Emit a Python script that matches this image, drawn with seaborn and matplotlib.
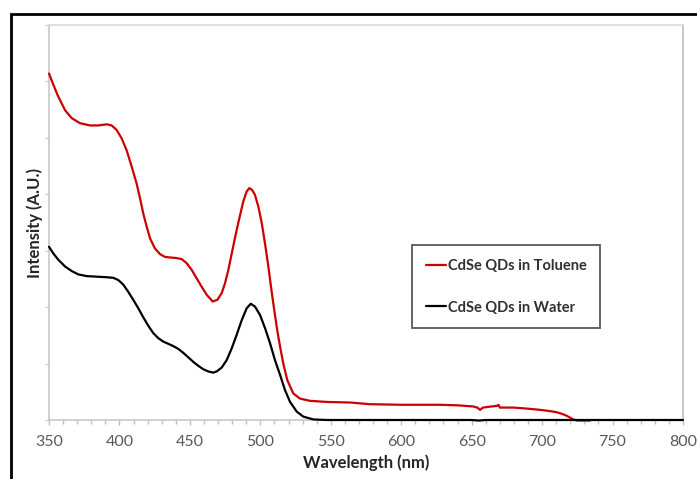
import numpy as np
import pandas as pd
import matplotlib.pyplot as plt
import seaborn as sns
from matplotlib.patches import Rectangle
from matplotlib.ticker import MultipleLocator, NullFormatter

# absorbance spectra (A.U.)
toluene_nm = [350, 353.1, 356.6, 361.4, 366.1, 372, 379.1, 385, 391, 394.5, 398, 401.6,
              405.1, 408.7, 412.2, 414.6, 416.9, 419.3, 421.7, 425.2, 428.8, 432.3, 435.9,
              440.6, 444.2, 447.7, 451.3, 454.8, 458.4, 461.9, 466.2, 469.5, 472.6, 474.9,
              477.3, 479.7, 482.7, 485.6, 487.9, 490.3, 492.2, 494.1, 496.2, 498.6, 501,
              503.3, 505.7, 508.1, 510.4, 512, 514, 516.3, 519.1, 523.4, 528.1, 535.2,
              547.1, 563.6, 577.8, 600, 627.5, 640, 651, 654, 656, 658, 664, 668, 669, 670,
              680, 690, 698.5, 705, 710, 714, 717, 720, 722, 725, 734]
toluene_int = [0.614, 0.594, 0.573, 0.549, 0.535, 0.526, 0.522, 0.522, 0.524, 0.522, 0.514,
               0.499, 0.478, 0.449, 0.419, 0.393, 0.366, 0.343, 0.322, 0.304, 0.294, 0.289,
               0.288, 0.287, 0.285, 0.278, 0.266, 0.251, 0.236, 0.222, 0.210, 0.213, 0.225,
               0.242, 0.266, 0.295, 0.331, 0.363, 0.387, 0.405, 0.411, 0.408, 0.399, 0.378,
               0.349, 0.313, 0.272, 0.226, 0.186, 0.159, 0.130, 0.100, 0.071, 0.047, 0.038,
               0.034, 0.032, 0.031, 0.028, 0.027, 0.027, 0.026, 0.024, 0.022, 0.018, 0.022,
               0.024, 0.025, 0.027, 0.022, 0.022, 0.020, 0.018, 0.016, 0.014, 0.011, 0.008,
               0.004, 0.001, -0.001, -0.001]

water_nm = [350, 353.1, 356.6, 361.4, 366.1, 370.8, 376.8, 383.9, 391, 395.6, 399.2, 402.7,
            406.3, 409.8, 413.4, 416.9, 420.5, 424, 427.6, 431.1, 434.7, 438.2, 441.8, 445.3,
            448.9, 452.4, 456, 459.5, 463.1, 466.6, 469, 472.6, 476.1, 479.7, 483.2, 486.8,
            490.3, 493.2, 496.2, 499.8, 503.3, 506.9, 510.4, 514, 517.5, 521.1, 525.8, 530.5,
            537.6, 547.1, 600, 650, 655, 660, 700, 750, 800]
water_int = [0.307, 0.295, 0.284, 0.272, 0.264, 0.258, 0.255, 0.254, 0.253, 0.252, 0.248,
             0.240, 0.227, 0.213, 0.198, 0.182, 0.167, 0.154, 0.145, 0.139, 0.135, 0.131,
             0.126, 0.119, 0.111, 0.103, 0.096, 0.090, 0.086, 0.084, 0.086, 0.093, 0.106,
             0.127, 0.151, 0.177, 0.198, 0.206, 0.201, 0.186, 0.163, 0.136, 0.106, 0.080,
             0.053, 0.032, 0.015, 0.006, 0.001, 0.0, 0.0, 0.0, -0.001, 0.0, 0.0, 0.0, 0.0]

series_names = ["CdSe QDs in Toluene", "CdSe QDs in Water"]
x_ticks = [350, 400, 450, 500, 550, 600, 650, 700, 750, 800]

sns.set_theme(style="white")
plt.rcParams['font.family'] = ['Lato', 'DejaVu Sans']

fig = plt.figure(figsize=(6.97, 4.79), dpi=100)
ax = fig.add_axes([49 / 697, 1 - 420 / 479, 634 / 697, 395 / 479])

tol = pd.DataFrame({"nm": toluene_nm, "val": toluene_int})
wat = pd.DataFrame({"nm": water_nm, "val": water_int})
sns.lineplot(data=tol, x="nm", y="val", ax=ax, color="#cc0000", lw=1.6,
             label=series_names[0], sort=False)
sns.lineplot(data=wat, x="nm", y="val", ax=ax, color="black", lw=1.6,
             label=series_names[1], sort=False)
for ln in ax.get_lines():
    ln.set_clip_on(False)
    ln.set_zorder(3)

ax.set_xlim(350, 800)
ax.set_ylim(0, 0.7)
ax.set_xticks(x_ticks)
ax.set_xticklabels([str(t) for t in x_ticks])
ax.xaxis.set_minor_locator(MultipleLocator(10))
ax.yaxis.set_major_locator(MultipleLocator(0.1))
ax.yaxis.set_major_formatter(NullFormatter())

ax.tick_params(axis="x", which="major", direction="out", length=3.5, width=1,
               color="#bfbfbf", labelsize=11.5, labelcolor="#595959", pad=7, bottom=True)
ax.tick_params(axis="x", which="minor", direction="out", length=3, width=1,
               color="#bfbfbf", bottom=True)
ax.tick_params(axis="y", which="major", direction="out", length=3, width=1,
               color="#d0d0d0", left=True, pad=2)

for side in ["left", "bottom"]:
    ax.spines[side].set_color("#c8c8c8")
    ax.spines[side].set_linewidth(1.2)
ax.spines["top"].set_color("#dcdcdc")
ax.spines["right"].set_color("#c0c0c0")

ax.set_xlabel("Wavelength (nm)", fontsize=12, fontweight="bold", color="#262626", labelpad=4)
ax.set_ylabel("Intensity (A.U.)", fontsize=12, fontweight="bold", color="#262626", labelpad=-1)

leg = ax.legend(loc="upper left", bbox_to_anchor=(0.5726, 0.443), frameon=True,
                fancybox=False, edgecolor="#303030",
                prop={"weight": "bold", "size": 10.5}, handlelength=1.4,
                handletextpad=0.1, labelspacing=1.9, borderpad=0.95, borderaxespad=0)
leg.get_frame().set_linewidth(1.3)
for t in leg.get_texts():
    t.set_color("#303030")

# outer frame of the picture (top and left edges visible)
fig.patches.append(Rectangle((11 / 697, -0.2), 1.2, 1 - 13.5 / 479 + 0.2,
                             transform=fig.transFigure, fill=False,
                             edgecolor="black", linewidth=2, clip_on=False))

fig.savefig("out.png", dpi=100)
